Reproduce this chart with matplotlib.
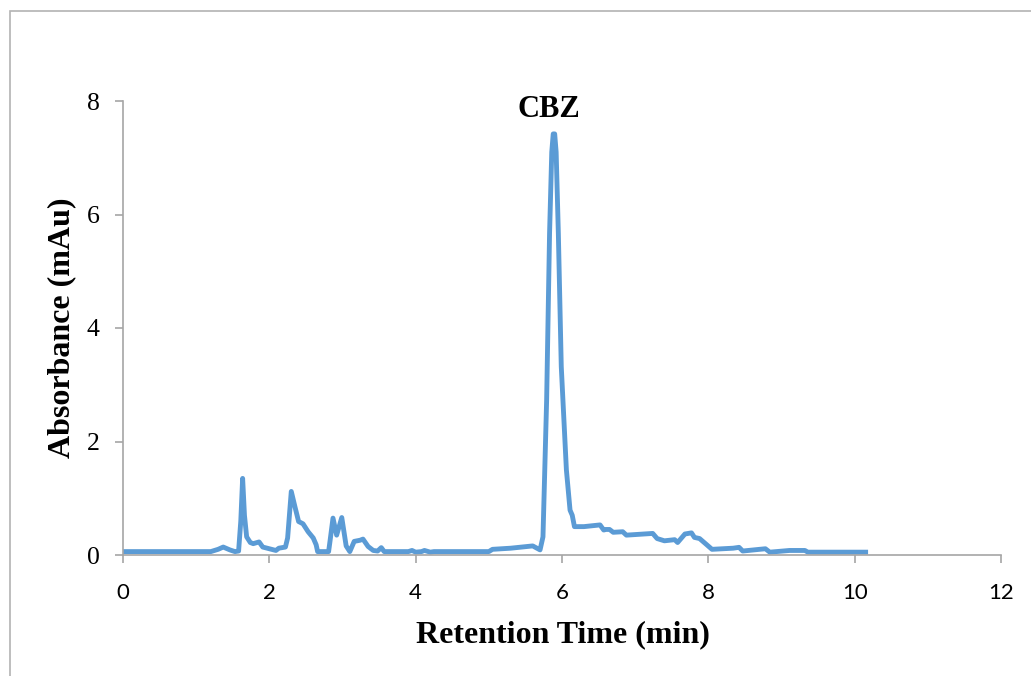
"""
HPLC chromatogram of CBZ, redrawn in Excel style.
"""

import matplotlib
matplotlib.use('Agg')
import matplotlib.pyplot as plt
from matplotlib.patches import Rectangle

# retention time (min) and absorbance (mAu)
time = [0.0, 1.20, 1.30, 1.37, 1.46, 1.53, 1.58, 1.61, 1.635, 1.66, 1.69, 1.74, 1.78,
        1.86, 1.91, 2.00, 2.09, 2.13, 2.22, 2.25, 2.30, 2.35, 2.40, 2.46, 2.53,
        2.60, 2.64, 2.66, 2.81, 2.83, 2.87, 2.92, 2.99, 3.05, 3.10, 3.16, 3.24,
        3.28, 3.35, 3.42, 3.48, 3.53, 3.57, 3.90, 3.95, 4.00, 4.08, 4.12, 4.20,
        4.25, 5.00, 5.05, 5.30, 5.60, 5.70, 5.74, 5.79, 5.83, 5.86, 5.88, 5.90,
        5.92, 5.95, 5.99, 6.06, 6.11, 6.14, 6.17, 6.30, 6.52, 6.57, 6.60, 6.65,
        6.70, 6.83, 6.88, 7.24, 7.30, 7.40, 7.54, 7.58, 7.68, 7.77, 7.81, 7.88,
        7.97, 8.05, 8.34, 8.42, 8.47, 8.70, 8.78, 8.84, 9.11, 9.32, 9.36, 10.15]
absorbance = [0.06, 0.06, 0.10, 0.14, 0.09, 0.06, 0.07, 0.60, 1.35, 0.70, 0.32, 0.22, 0.20,
              0.23, 0.14, 0.11, 0.08, 0.12, 0.14, 0.30, 1.12, 0.85, 0.59, 0.55, 0.41,
              0.30, 0.18, 0.06, 0.06, 0.25, 0.65, 0.35, 0.66, 0.16, 0.06, 0.24, 0.26,
              0.28, 0.15, 0.08, 0.07, 0.13, 0.06, 0.06, 0.08, 0.05, 0.06, 0.08, 0.05,
              0.06, 0.06, 0.10, 0.12, 0.16, 0.09, 0.32, 2.73, 5.67, 7.10, 7.42, 7.42,
              7.10, 5.67, 3.32, 1.50, 0.79, 0.70, 0.50, 0.50, 0.53, 0.44, 0.45, 0.45,
              0.40, 0.41, 0.35, 0.38, 0.29, 0.25, 0.27, 0.22, 0.37, 0.39, 0.31, 0.29,
              0.19, 0.10, 0.12, 0.135, 0.07, 0.10, 0.11, 0.05, 0.08, 0.08, 0.05, 0.05]

peak_label = 'CBZ'
peak_pos = (5.82, 7.72)

serif = 'Liberation Serif'
sans = 'Lato'
gray = '#A6A6A6'

fig = plt.figure(figsize=(10.31, 6.76), dpi=100)
# outer chart frame (only the top and left edges show in the original crop)
fig.add_artist(Rectangle((10/1031, -0.1), 1.2, 1 - 11/676 + 0.1, transform=fig.transFigure,
                         fill=False, ec='#B3B3B3', lw=1.2))

ax = fig.add_axes([123/1031, 1 - 555/676, 878/1031, 454/676])
ax.plot(time, absorbance, color='#5B9BD5', lw=3.5, solid_joinstyle='round')
ax.set_xlim(0, 12)
ax.set_ylim(0, 8)
ax.set_xticks(range(0, 13, 2))
ax.set_yticks(range(0, 9, 2))

for side in ['top', 'right']:
    ax.spines[side].set_visible(False)
for side in ['left', 'bottom']:
    ax.spines[side].set_color(gray)
    ax.spines[side].set_linewidth(1.2)
ax.tick_params(axis='both', direction='out', length=6, width=1.2, color=gray)
ax.tick_params(axis='y', pad=11)
ax.tick_params(axis='x', pad=14)
for lbl in ax.get_yticklabels():
    lbl.set_fontfamily(serif)
    lbl.set_fontsize(18.5)
for lbl in ax.get_xticklabels():
    lbl.set_fontfamily(sans)
    lbl.set_fontsize(16)

ax.set_xlabel('Retention Time (min)', fontfamily=serif, fontweight='bold', fontsize=23,
              va='baseline')
ax.xaxis.set_label_coords(0.501, (555 - 642.7) / 454)
ax.set_ylabel('Absorbance (mAu)', fontfamily=serif, fontweight='bold', fontsize=23,
              va='center')
ax.yaxis.set_label_coords((62 - 123) / 878, 0.5)
ax.text(peak_pos[0], peak_pos[1], peak_label, fontfamily=serif, fontweight='bold',
        fontsize=22, ha='center', va='baseline')

fig.savefig('out.png', dpi=100)
